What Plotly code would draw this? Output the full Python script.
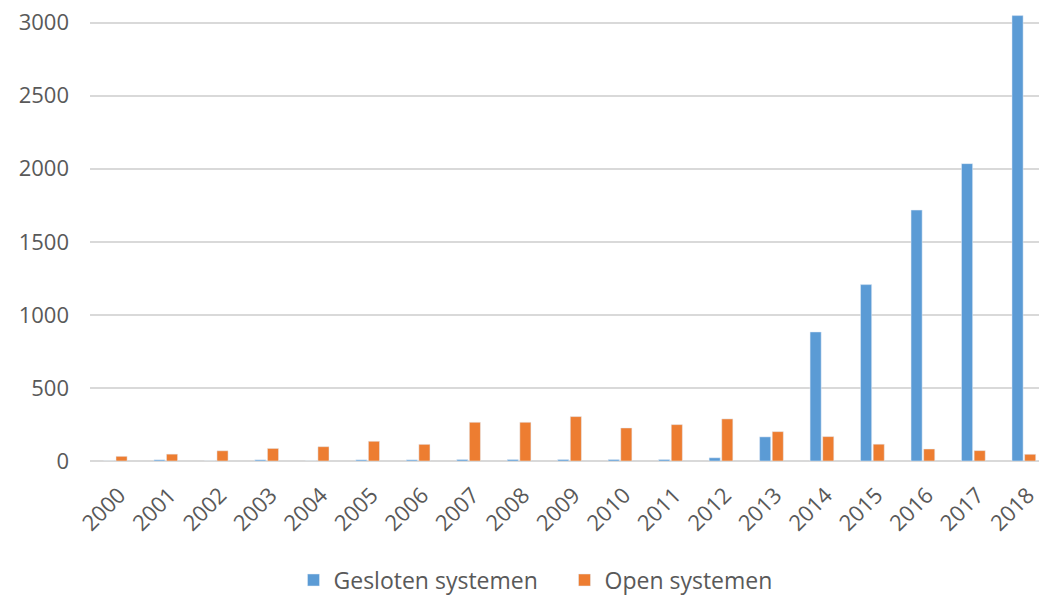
import plotly.graph_objects as go

years = [str(y) for y in range(2000, 2019)]
gesloten = [0, 8, 0, 8, 0, 8, 8, 10, 10, 10, 10, 10, 22, 165, 883, 1207, 1717, 2035, 3048]
open_sys = [32, 47, 70, 86, 98, 135, 114, 265, 265, 304, 226, 249, 288, 201, 167, 115, 82, 71, 46]

fig = go.Figure()
fig.add_trace(go.Bar(x=years, y=gesloten, name="Gesloten systemen", marker_color="#5B9BD5"))
fig.add_trace(go.Bar(x=years, y=open_sys, name="Open systemen", marker_color="#ED7D31"))

font_color = "#595959"
fig.update_layout(
    width=1039, height=598,
    margin=dict(l=90, r=0, t=8, b=137, autoexpand=False),
    plot_bgcolor="white", paper_bgcolor="white",
    barmode="group", bargap=0.5, bargroupgap=0.12,
    font=dict(family="Open Sans", size=22, color=font_color),
    showlegend=True,
    legend=dict(orientation="h", x=0.5, xanchor="center", yref="container",
                y=0.03, yanchor="middle", entrywidth=226,
                font=dict(size=23, color=font_color), itemwidth=30),
    xaxis=dict(range=[-0.5, 18.3], tickangle=-45, showgrid=False, showline=False,
               ticks="", tickfont=dict(size=22, color=font_color),
               ticklabelstandoff=16, ticklabelshift=4, automargin=False),
    yaxis=dict(range=[0, 3100], tickvals=[0, 500, 1000, 1500, 2000, 2500, 3000],
               gridcolor="#d9d9d9", gridwidth=1.5, zeroline=True, zerolinecolor="#d9d9d9",
               zerolinewidth=1.5, ticks="", tickfont=dict(size=22, color=font_color),
               ticklabelstandoff=20, automargin=False),
)
fig.write_html("out.html")
